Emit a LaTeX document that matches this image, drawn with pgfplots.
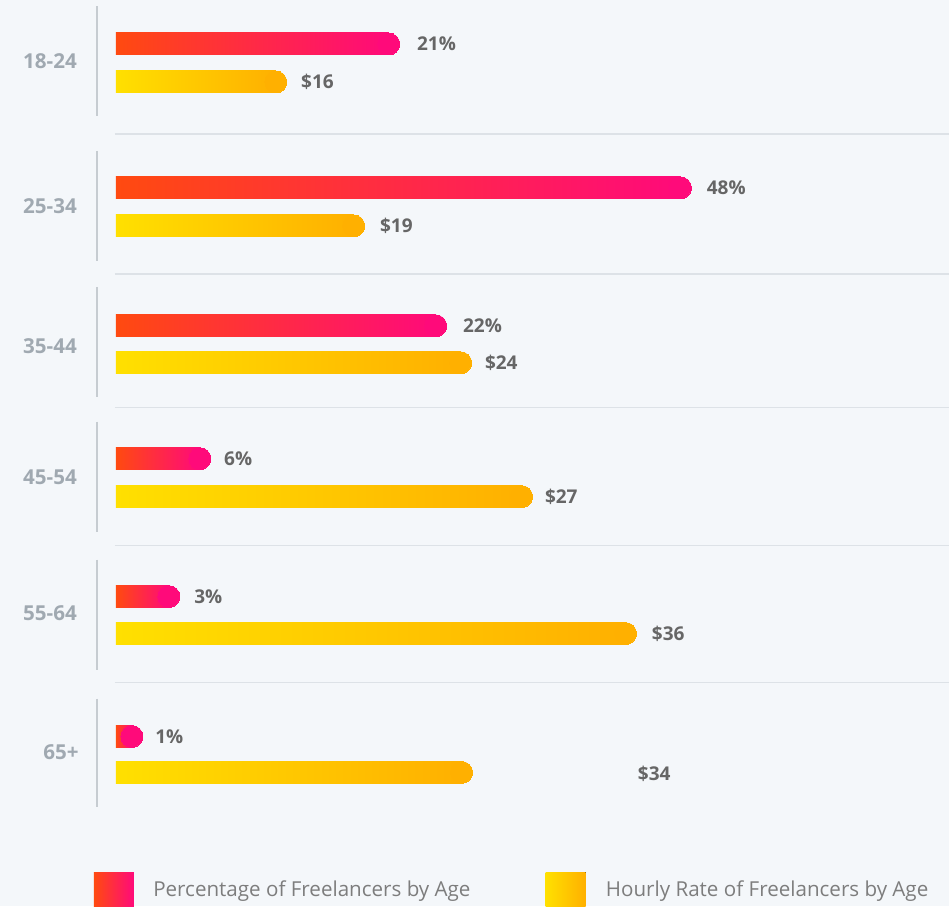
\documentclass[border=0pt]{standalone}
\usepackage{fontspec}
\setmainfont{Open Sans}
\newcommand\semib{\bfseries}
\usepackage{pgfplots}
\pgfplotsset{compat=1.18}
\definecolor{bgcol}{HTML}{F4F7FA}
\definecolor{redA}{HTML}{FF4A10}
\definecolor{redB}{HTML}{FF0A7A}
\definecolor{yelA}{HTML}{FFE000}
\definecolor{yelB}{HTML}{FFB000}
\definecolor{valtxt}{HTML}{666666}
\definecolor{cattxt}{HTML}{A0A9B1}
\definecolor{sepcol}{HTML}{DDE2E7}
\definecolor{vcol}{HTML}{C6CCD1}
\definecolor{legtxt}{HTML}{7D7D7D}

% one bar: shaded body from 0 to #1 at height #2, plus a round cap of the end colour
% x = pixel - 116, y = pixel from top; visible end = #1 + 11
\newcommand\gbar[4]{%
  \addplot[xbar, bar width=11pt, draw=none, left color=#3, right color=#4]
    coordinates {(#1,#2)};
  \addplot[only marks, mark=*, mark size=5.5pt, color=#4,
      mark options={line width=0pt, draw=#4, fill=#4}]
    coordinates {(#1,#2)};
}

\begin{document}
\begin{tikzpicture}
\begin{axis}[
  scale only axis, width=475pt, height=453.5pt,
  xmin=-116, xmax=834, ymin=0, ymax=907, y dir=reverse,
  axis lines=none, xtick=\empty, ytick=\empty, clip=false,
  axis background/.style={fill=bgcol},
  lbl/.style={draw=none, mark=none, nodes near coords, point meta=explicit symbolic},
  ]
  % separators
  \addplot[sepcol, line width=0.7pt] coordinates {(-1,134)(834,134)};
  \addplot[sepcol, line width=0.7pt] coordinates {(-1,274)(834,274)};
  \addplot[sepcol, line width=0.7pt] coordinates {(-1,408)(834,408)};
  \addplot[sepcol, line width=0.7pt] coordinates {(-1,546)(834,546)};
  \addplot[sepcol, line width=0.7pt] coordinates {(-1,683)(834,683)};
  % group brackets
  \addplot[vcol, line width=0.7pt] coordinates {(-19,6)(-19,116)};
  \addplot[vcol, line width=0.7pt] coordinates {(-19,151)(-19,261)};
  \addplot[vcol, line width=0.7pt] coordinates {(-19,287)(-19,397)};
  \addplot[vcol, line width=0.7pt] coordinates {(-19,422)(-19,532)};
  \addplot[vcol, line width=0.7pt] coordinates {(-19,560)(-19,670)};
  \addplot[vcol, line width=0.7pt] coordinates {(-19,699)(-19,808)};
  % percentage bars
  \gbar{273}{44}{redA}{redB}
  \gbar{565}{188}{redA}{redB}
  \gbar{320}{326}{redA}{redB}
  \gbar{84}{459}{redA}{redB}
  \gbar{53}{597}{redA}{redB}
  \gbar{16}{737}{redA}{redB}
  % hourly rate bars
  \gbar{160}{82}{yelA}{yelB}
  \gbar{238}{226}{yelA}{yelB}
  \gbar{345}{363}{yelA}{yelB}
  \gbar{406}{497}{yelA}{yelB}
  \gbar{510}{634}{yelA}{yelB}
  \gbar{346}{773}{yelA}{yelB}
  % value labels
  \addplot[lbl, every node near coord/.style={anchor=west, inner sep=0pt,
      font=\semib\fontsize{9.5}{11}\selectfont, text=valtxt}]
    table[x=x, y=y, meta=t] {
x   y   t
301 44  21\%
185 82  \$16
591 188 48\%
264 226 \$19
347 326 22\%
369 363 \$24
108 459 6\%
429 497 \$27
78  597 3\%
536 634 \$36
39  737 1\%
522 774 \$34
};
  % category labels
  \addplot[lbl, every node near coord/.style={anchor=center, inner sep=0pt,
      font=\semib\fontsize{10.3}{12}\selectfont, text=cattxt}]
    table[x=x, y=y, meta=t] {
x   y   t
-66 61  18-24
-66 206 25-34
-66 346 35-44
-66 478 45-54
-66 614 55-64
-55 753 65+
};
  % legend
  \addplot[draw=none, fill, left color=redA, right color=redB]
    coordinates {(-22,873)(18,873)(18,907)(-22,907)} -- cycle;
  \addplot[draw=none, fill, left color=yelA, right color=yelB]
    coordinates {(430,873)(470,873)(470,907)(430,907)} -- cycle;
  \addplot[lbl, every node near coord/.style={anchor=west, inner sep=0pt,
      font=\fontsize{10.3}{12}\selectfont, text=legtxt}]
    table[x=x, y=y, meta=t] {
x   y   t
37  892 {Percentage of Freelancers by Age}
490 892 {Hourly Rate of Freelancers by Age}
};
\end{axis}
\end{tikzpicture}
\end{document}
